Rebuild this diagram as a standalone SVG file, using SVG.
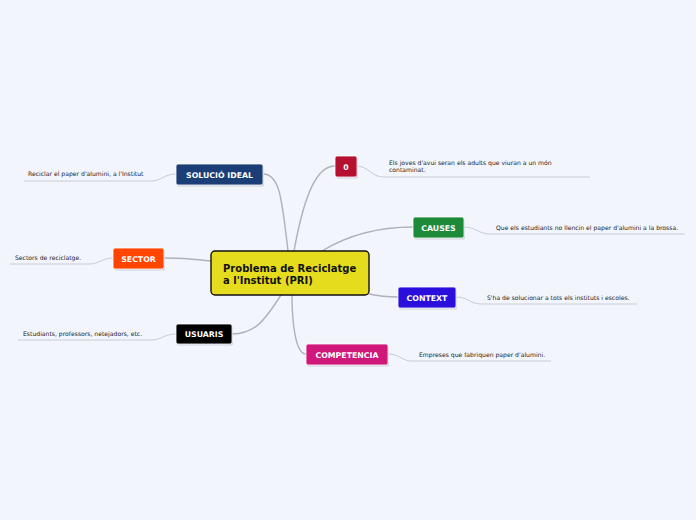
<svg xmlns="http://www.w3.org/2000/svg" width="696" height="520" viewBox="0 0 696 520">
<defs>
<style>
.bg{fill:#f3f5fd}
.main{stroke:#aeb1b8;stroke-width:1.4;fill:none}
.sub{stroke:#c9ccd4;stroke-width:1;fill:none}
.box{stroke:#ffffff;stroke-width:0.8}
.sh{fill:#b8bcc6;opacity:0.6}
.lbl{font-family:"DejaVu Sans",Verdana,sans-serif;font-weight:bold;font-size:7.8px;fill:#ffffff;text-anchor:middle}
.det{font-family:"DejaVu Sans",Verdana,sans-serif;font-size:6.1px;fill:#222222}
.ctr{font-family:"DejaVu Sans",Verdana,sans-serif;font-weight:bold;font-size:10px;fill:#111111}
</style>
</defs>
<rect class="bg" x="0" y="0" width="696" height="520"/>
<g id="connectors">
<path class="main" d="M263,174 C280,174 282,200 288,251"/>
<path class="main" d="M335,166 C318,166 305,190 294,251"/>
<path class="main" d="M413,227 C370,227 340,240 322,251"/>
<path class="main" d="M164,258 C190,258 200,260 211,261"/>
<path class="main" d="M398,297 C385,297 378,296 369,294"/>
<path class="main" d="M232,334 C255,334 265,320 281,295"/>
<path class="main" d="M306,354 C295,354 292,320 292,295"/>
<path class="sub" d="M176,174 C165,174 160,181 152,181 L24,181"/>
<path class="sub" d="M113,258 C103,258 98,264 90,264 L10,264"/>
<path class="sub" d="M176,334 C165,334 160,340 152,340 L18,340"/>
<path class="sub" d="M357,166 C368,166 372,177 383,177 L590,177"/>
<path class="sub" d="M464,227 C475,227 479,234 490,234 L685,234"/>
<path class="sub" d="M456,297 C467,297 471,304 481,304 L637,304"/>
<path class="sub" d="M388,354 C399,354 403,361 411,361 L551,361"/>
</g>
<g id="central">
<rect x="211" y="251" width="158" height="44" rx="4" fill="#e5dc1e" stroke="#111111" stroke-width="1.4"/>
<text class="ctr" x="223" y="272">Problema de Reciclatge</text>
<text class="ctr" x="223" y="284">a l'Institut (PRI)</text>
</g>
<g id="solucio">
<rect class="sh" x="177" y="165.5" width="87" height="21" rx="2"/>
<rect class="box" x="176" y="164" width="87" height="21" rx="2" fill="#1b3e76"/>
<text class="lbl" x="219.5" y="177.5">SOLUCIÓ IDEAL</text>
<text class="det" x="28" y="176">Reciclar el paper d'alumini, a l'Institut</text>
</g>
<g id="sector">
<rect class="sh" x="114" y="249.5" width="51" height="21" rx="2"/>
<rect class="box" x="113" y="248" width="51" height="21" rx="2" fill="#ff4500"/>
<text class="lbl" x="138.5" y="261.5">SECTOR</text>
<text class="det" x="15" y="260">Sectors de reciclatge.</text>
</g>
<g id="usuaris">
<rect class="sh" x="177" y="325.5" width="56" height="20" rx="2"/>
<rect class="box" x="176" y="324" width="56" height="20" rx="2" fill="#000000"/>
<text class="lbl" x="204" y="337">USUARIS</text>
<text class="det" x="23" y="336">Estudiants, professors, netejadors, etc.</text>
</g>
<g id="zero">
<rect class="sh" x="336" y="157.5" width="22" height="21" rx="2"/>
<rect class="box" x="335" y="156" width="22" height="21" rx="2" fill="#b5102f"/>
<text class="lbl" x="346" y="169.5">0</text>
<text class="det" x="389" y="165">Els joves d'avui seran els adults que viuran a un món</text>
<text class="det" x="389" y="172">contaminat.</text>
</g>
<g id="causes">
<rect class="sh" x="414" y="218.5" width="51" height="21" rx="2"/>
<rect class="box" x="413" y="217" width="51" height="21" rx="2" fill="#1d8a3a"/>
<text class="lbl" x="438.5" y="230.5">CAUSES</text>
<text class="det" x="496" y="230">Que els estudiants no llencin el paper d'alumini a la brossa.</text>
</g>
<g id="context">
<rect class="sh" x="399" y="288.5" width="58" height="21" rx="2"/>
<rect class="box" x="398" y="287" width="58" height="21" rx="2" fill="#2a0fdc"/>
<text class="lbl" x="427" y="300.5">CONTEXT</text>
<text class="det" x="487" y="300">S'ha de solucionar a tots els instituts i escoles.</text>
</g>
<g id="competencia">
<rect class="sh" x="307" y="345.5" width="82" height="21" rx="2"/>
<rect class="box" x="306" y="344" width="82" height="21" rx="2" fill="#cf187a"/>
<text class="lbl" x="347" y="357.5">COMPETENCIA</text>
<text class="det" x="419" y="357">Empreses que fabriquen paper d'alumini.</text>
</g>
</svg>
